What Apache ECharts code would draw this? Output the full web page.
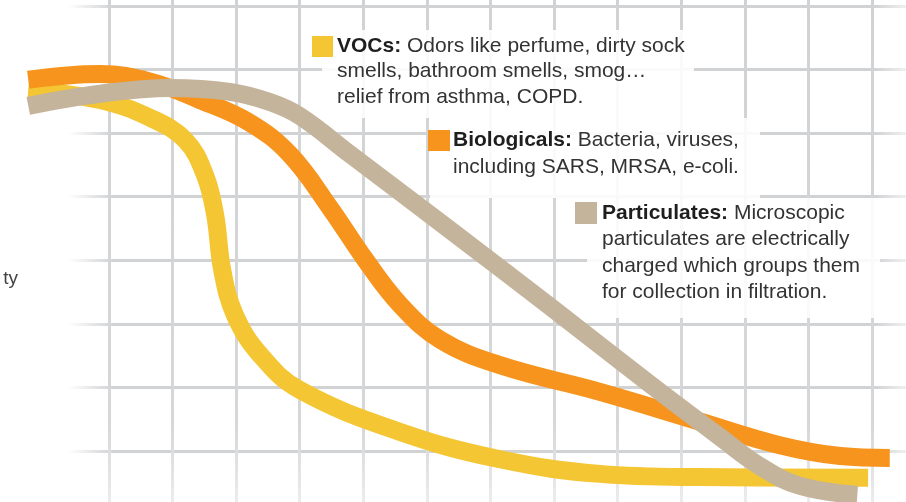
<!DOCTYPE html>
<html>
<head>
<meta charset="utf-8">
<script src="https://cdn.jsdelivr.net/npm/echarts@6/dist/echarts.min.js"></script>
<style>
html,body{margin:0;padding:0;background:#ffffff;}
#chart{width:906px;height:502px;}
</style>
</head>
<body>
<div id="chart"></div>
<script>
// Series names and colours
const seriesNames = ['VOCs', 'Biologicals', 'Particulates'];
const seriesColors = ['#F4C633', '#F7941E', '#C4B49B'];

// Curve values: [x, y] in grid units (10 per grid cell)
const vocsData = [
  [-12.7, 66.8], [-1.4, 65.2], [6.5, 62.4], [12.0, 58.9], [15.1, 53.4], [16.7, 47.1],
  [17.8, 38.5], [19.8, 31.4], [23.8, 25.1], [30.0, 19.6], [45.8, 13.0], [61.5, 8.7],
  [77.2, 6.4], [93.0, 5.9], [119.4, 5.8]
];
const biologicalsData = [
  [-12.7, 68.4], [-1.4, 69.3], [6.5, 68.1], [14.3, 65.2], [22.2, 61.6], [28.5, 56.6],
  [34.8, 48.2], [40.3, 40.1], [45.8, 33.0], [52.1, 27.5], [61.5, 23.5], [77.2, 19.3],
  [93.0, 14.6], [105.5, 10.9], [115.0, 9.2], [122.8, 8.9]
];
const particulatesData = [
  [-12.7, 64.3], [-1.4, 66.2], [9.6, 67.1], [19.0, 66.5], [25.3, 64.9], [30.0, 62.7],
  [37.9, 56.7], [53.6, 44.8], [69.4, 32.7], [85.1, 20.5], [96.1, 12.2], [102.4, 7.6],
  [108.7, 4.5], [117.7, 3.1]
];

// Legend / annotation texts
const vocsText = ['{b|VOCs:} Odors like perfume, dirty sock', 'smells, bathroom smells, smog\u2026', 'relief from asthma, COPD.'];
const bioText = ['{b|Biologicals:} Bacteria, viruses,', 'including SARS, MRSA, e-coli.'];
const partText = ['{b|Particulates:} Microscopic', 'particulates are electrically', 'charged which groups them', 'for collection in filtration.'];
const sideLabel = 'ty';

const FONT = '"Liberation Sans", Arial, Helvetica, sans-serif';
const chart = echarts.init(document.getElementById('chart'), null, {renderer: 'canvas'});

const W = 906, H = 502;
const gridColor = '#d1d2d4';
const hGrad = new echarts.graphic.LinearGradient(0, 0, W, 0, [
  {offset: 0, color: 'rgba(209,210,212,0)'},
  {offset: 0.075, color: 'rgba(209,210,212,0)'},
  {offset: 0.125, color: gridColor},
  {offset: 0.965, color: gridColor},
  {offset: 1, color: 'rgba(209,210,212,0.35)'}
], true);
const vGrad = new echarts.graphic.LinearGradient(0, 0, 0, H, [
  {offset: 0, color: gridColor},
  {offset: 0.85, color: '#d6d7d9'},
  {offset: 1, color: '#ececee'}
], true);

// plot geometry (grid cell = 10 units)
const x0px = 109, cellX = 63.58;     // x=0 at pixel 109
const y0px = 514.56, cellY = 63.57;  // y=0 at pixel 514.56 (below the view)
const xMinView = -x0px / cellX * 10, xMaxView = (W - x0px) / cellX * 10;
const yMinView = (y0px - H) / cellY * 10, yMaxView = y0px / cellY * 10;

function textBlock(lines, x, y0, lh) {
  return lines.map((t, i) => ({
    type: 'text', x: x, y: y0 + i * lh, z: 20,
    style: {
      text: t, fill: '#333333', font: '21px ' + FONT, verticalAlign: 'middle', align: 'left',
      rich: {b: {font: 'bold 21px ' + FONT, fill: '#1e1e1e'}}
    }
  }));
}

const graphics = [
  {type: 'rect', z: 10, shape: {x: 322, y: 30, width: 372, height: 88}, style: {fill: 'rgba(255,255,255,0.88)'}},
  {type: 'rect', z: 10, shape: {x: 430, y: 118, width: 330, height: 80}, style: {fill: 'rgba(255,255,255,0.88)'}},
  {type: 'rect', z: 10, shape: {x: 587, y: 198, width: 293, height: 120}, style: {fill: 'rgba(255,255,255,0.88)'}},
  {type: 'rect', z: 21, shape: {x: 312, y: 36, width: 21, height: 21}, style: {fill: seriesColors[0]}},
  {type: 'rect', z: 21, shape: {x: 428, y: 130, width: 22, height: 21}, style: {fill: seriesColors[1]}},
  {type: 'rect', z: 21, shape: {x: 575, y: 202, width: 22, height: 22}, style: {fill: seriesColors[2]}},
  {type: 'text', z: 20, x: 18, y: 279, style: {text: sideLabel, fill: '#444444', font: '19px ' + FONT, align: 'right', verticalAlign: 'middle'}}
].concat(textBlock(vocsText, 337, 46, 25.5))
 .concat(textBlock(bioText, 453, 140, 27))
 .concat(textBlock(partText, 602, 213, 26.5));

const hidden = {axisLine: {show: false}, axisTick: {show: false}, axisLabel: {show: false}};

const option = {
  animation: false,
  backgroundColor: '#ffffff',
  grid: [
    {left: 0, right: 0, top: 0, bottom: 0},                         // series
    {left: 0, right: 0, top: 6, bottom: H - 451},                   // horizontal lines
    {left: x0px, right: W - (x0px + 12 * cellX), top: 0, bottom: 0} // vertical lines
  ],
  xAxis: [
    Object.assign({type: 'value', gridIndex: 0, min: xMinView, max: xMaxView, splitLine: {show: false}}, hidden),
    Object.assign({type: 'value', gridIndex: 1, min: 0, max: 10, interval: 10, splitLine: {show: false}}, hidden),
    Object.assign({type: 'value', gridIndex: 2, min: 0, max: 120, interval: 10,
      splitLine: {show: true, lineStyle: {color: vGrad, width: 3}}}, hidden)
  ],
  yAxis: [
    Object.assign({type: 'value', gridIndex: 0, min: yMinView, max: yMaxView, splitLine: {show: false}}, hidden),
    Object.assign({type: 'value', gridIndex: 1, min: 10, max: 80, interval: 10,
      splitLine: {show: true, lineStyle: {color: hGrad, width: 3}}}, hidden),
    Object.assign({type: 'value', gridIndex: 2, min: 0, max: 10, interval: 10, splitLine: {show: false}}, hidden)
  ],
  series: [vocsData, biologicalsData, particulatesData].map((d, i) => ({
    name: seriesNames[i], type: 'line', xAxisIndex: 0, yAxisIndex: 0,
    data: d, smooth: 0.4, showSymbol: false, symbol: 'none', clip: false, z: 3 + i,
    lineStyle: {color: seriesColors[i], width: 18, cap: 'butt', join: 'round'},
    emphasis: {disabled: true}, silent: true
  })),
  graphic: graphics
};
chart.setOption(option);
</script>
</body>
</html>
